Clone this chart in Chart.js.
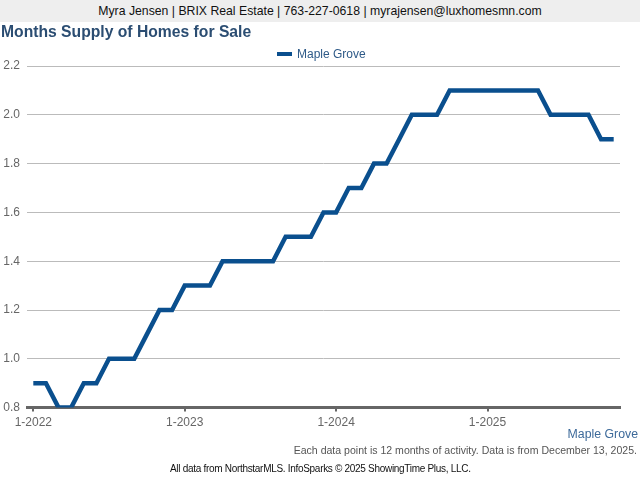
<!DOCTYPE html>
<html>
<head>
<meta charset="utf-8">
<script src="https://cdn.jsdelivr.net/npm/chart.js@4/dist/chart.umd.min.js"></script>
<style>
  html, body { margin: 0; padding: 0; background: #ffffff; }
  body { width: 640px; height: 480px; position: relative; overflow: hidden; font-family: "Liberation Sans", Arial, sans-serif; }
  #header { position: absolute; left: 0; top: 0; width: 640px; height: 22px; background: #eeeeee; color: #111; font-size: 12.25px; line-height: 22px; text-align: center; }
  #title { position: absolute; left: 1px; top: 23px; font-size: 15.7px; font-weight: bold; color: #2b4d72; white-space: nowrap; }
  #legend { position: absolute; left: 277px; top: 46px; font-size: 12px; color: #2e5a88; white-space: nowrap; line-height: 16px; }
  #legend span.sw { display: inline-block; width: 15px; height: 4px; background: #0a4f8e; vertical-align: middle; margin-right: 5px; position: relative; top: -1px; }
  #wrap { position: absolute; left: 0; top: 0; width: 640px; height: 480px; }
  #place { position: absolute; right: 2px; top: 427px; font-size: 12.3px; color: #3d6a9a; white-space: nowrap; }
  #note { position: absolute; right: 3px; top: 444px; font-size: 10.55px; color: #555; white-space: nowrap; }
  #src { position: absolute; left: 170px; top: 463px; font-size: 10px; color: #111; white-space: nowrap; letter-spacing: -0.3px; }
</style>
</head>
<body>
<div id="wrap"><canvas id="c" width="640" height="480"></canvas></div>
<div id="header">Myra Jensen | BRIX Real Estate | 763-227-0618 | myrajensen@luxhomesmn.com</div>
<div id="title">Months Supply of Homes for Sale</div>
<div id="legend"><span class="sw"></span>Maple Grove</div>
<div id="place">Maple Grove</div>
<div id="note">Each data point is 12 months of activity. Data is from December 13, 2025.</div>
<div id="src">All data from NorthstarMLS. InfoSparks © 2025 ShowingTime Plus, LLC.</div>
<script>
const months = [
  "1-2022","2-2022","3-2022","4-2022","5-2022","6-2022","7-2022","8-2022","9-2022","10-2022","11-2022","12-2022",
  "1-2023","2-2023","3-2023","4-2023","5-2023","6-2023","7-2023","8-2023","9-2023","10-2023","11-2023","12-2023",
  "1-2024","2-2024","3-2024","4-2024","5-2024","6-2024","7-2024","8-2024","9-2024","10-2024","11-2024","12-2024",
  "1-2025","2-2025","3-2025","4-2025","5-2025","6-2025","7-2025","8-2025","9-2025","10-2025","11-2025"
];
const mapleGrove = [
  0.9,0.9,0.8,0.8,0.9,0.9,1.0,1.0,1.0,1.1,1.2,1.2,
  1.3,1.3,1.3,1.4,1.4,1.4,1.4,1.4,1.5,1.5,1.5,1.6,
  1.6,1.7,1.7,1.8,1.8,1.9,2.0,2.0,2.0,2.1,2.1,2.1,
  2.1,2.1,2.1,2.1,2.1,2.0,2.0,2.0,2.0,1.9,1.9
];
const yTicks = [0.8, 1.0, 1.2, 1.4, 1.6, 1.8, 2.0, 2.2];
const seriesName = "Maple Grove";

new Chart(document.getElementById('c'), {
  type: 'line',
  data: {
    labels: months,
    datasets: [{
      label: seriesName,
      data: mapleGrove,
      borderColor: '#0a4f8e',
      backgroundColor: '#0a4f8e',
      borderWidth: 4.5,
      pointRadius: 0,
      tension: 0,
      fill: false
    }]
  },
  options: {
    responsive: false,
    animation: false,
    layout: { padding: { left: 3, right: 20, top: 66, bottom: 46 } },
    plugins: { legend: { display: false }, tooltip: { enabled: false } },
    scales: {
      x: {
        type: 'category',
        offset: true,
        grid: { display: true, drawOnChartArea: false, color: '#666', lineWidth: 2, tickLength: 4 },
        border: { display: true, color: '#666', width: 3 },
        ticks: {
          autoSkip: false, maxRotation: 0, padding: 4,
          color: '#666', font: { family: 'Liberation Sans', size: 12 },
          callback: function (v, i) { return i % 12 === 0 ? this.getLabelForValue(v) : null; }
        }
      },
      y: {
        min: 0.8, max: 2.2,
        afterBuildTicks: s => { s.ticks = yTicks.map(v => ({ value: v })); },
        afterFit: s => { s.width = 24; },
        grid: { color: '#bbbbbb', lineWidth: 1, drawTicks: false },
        border: { display: false },
        ticks: {
          padding: 7, color: '#666', font: { family: 'Liberation Sans', size: 12 },
          callback: v => Number(v).toFixed(1)
        }
      }
    }
  }
});
</script>
</body>
</html>
